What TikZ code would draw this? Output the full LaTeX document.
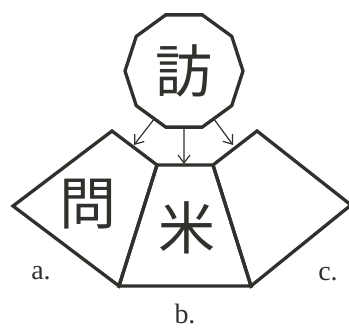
\documentclass[tikz,border=0pt]{standalone}
\usepackage{fontspec}
\setmainfont{Liberation Serif}
\newfontfamily\cjk{Noto Sans CJK JP}
\usetikzlibrary{shapes.geometric,arrows.meta}
\definecolor{ink}{RGB}{48,48,44}
\tikzset{
  shapeline/.style={draw=ink, line width=3.3pt, line join=miter},
  arrowline/.style={draw=ink, line width=1.2pt, -{Straight Barb[length=8pt,width=12pt,line width=1.2pt]}},
  bigchar/.style={font=\cjk\fontsize{57}{57}\selectfont, text=ink, inner sep=0pt},
  lbl/.style={font=\fontsize{28}{28}\selectfont, text=ink, inner sep=0pt},
}
\begin{document}
\begin{tikzpicture}[x=1pt,y=-1pt]
\useasboundingbox[fill=white] (0,0) rectangle (349,331);
% vertices
\coordinate (lt) at (112,131);
\coordinate (ll) at (13,206);
\coordinate (tl) at (157,165);
\coordinate (tr) at (213,165);
\coordinate (bl) at (119,286);
\coordinate (br) at (251,286);
\coordinate (rt) at (257,131);
\coordinate (rr) at (351,205);
% shapes
\draw[shapeline] (lt) -- (tl) -- (bl) -- (ll) -- cycle;
\draw[shapeline] (tl) -- (tr) -- (br) -- (bl) -- cycle;
\draw[shapeline] (tr) -- (rt) -- (rr) -- (br) -- cycle;
% decagon
\node[regular polygon, regular polygon sides=10, minimum size=118pt, inner sep=0pt,
      shapeline, bigchar] (dec) at (184,71) {訪};
% arrows
\coordinate (ea) at (134,145);
\coordinate (eb) at (184,164);
\coordinate (ec) at (233,145);
\draw[arrowline] (dec.238) -- (ea);
\draw[arrowline] (dec.south) -- (eb);
\draw[arrowline] (dec.302) -- (ec);
% characters
\node[bigchar] (mon) at (88,204) {問};
\node[bigchar] (bei) at (187,228) {米};
% labels
\node[lbl] (la) at (41,273) {a.};
\node[lbl] (lb) at (185,314) {b.};
\node[lbl] (lc) at (328,274) {c.};
\end{tikzpicture}
\end{document}
